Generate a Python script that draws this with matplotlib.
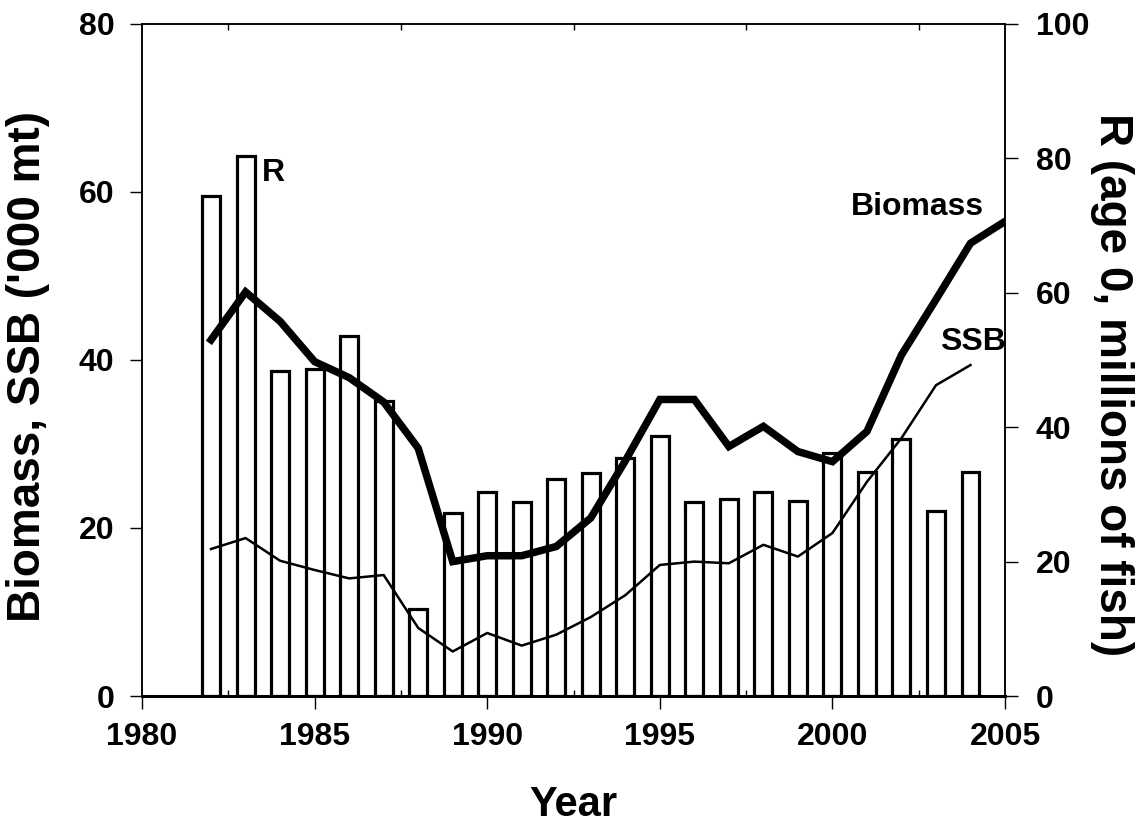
import numpy as np
import matplotlib.pyplot as plt
from matplotlib.ticker import MultipleLocator

plt.rcParams['font.family'] = ['Liberation Sans', 'DejaVu Sans']
plt.rcParams['font.weight'] = 'bold'

# recruitment bars (right axis, millions of age-0 fish)
r_years = np.arange(1982, 2005)
recruits = [74.4, 80.4, 48.4, 48.7, 53.5, 43.9, 12.9, 27.3, 30.4, 28.8, 32.3,
            33.2, 35.4, 38.7, 28.8, 29.3, 30.4, 29.0, 36.1, 33.4, 38.2, 27.5, 33.4]

# biomass (left axis, '000 mt)
b_years = np.arange(1982, 2006)
biomass = [42.4, 48.1, 44.6, 39.8, 37.9, 35.0, 29.5, 16.0, 16.7, 16.7, 17.8,
           21.2, 28.0, 35.3, 35.3, 29.7, 32.1, 29.1, 27.9, 31.5, 40.6, 47.2,
           53.9, 56.5]

# spawning stock biomass (left axis)
s_years = np.arange(1982, 2005)
ssb = [17.5, 18.8, 16.1, 15.0, 14.0, 14.4, 8.1, 5.3, 7.5, 6.0, 7.3,
       9.4, 12.0, 15.6, 16.0, 15.8, 18.0, 16.6, 19.4, 25.5, 30.7, 37.0, 39.4]

fig = plt.figure(figsize=(11.4, 8.27), dpi=100)
ax = fig.add_axes([0.1246, 0.1584, 0.757, 0.8126])
ax2 = ax.twinx()

ax2.bar(r_years, recruits, width=0.52, facecolor='white', edgecolor='black',
        linewidth=2.3, zorder=2)
ax.plot(b_years, biomass, color='black', lw=5.4, solid_joinstyle='miter', zorder=3)
ax.plot(s_years, ssb, color='black', lw=1.8, zorder=3)

# lines drawn over the bars
ax.set_zorder(ax2.get_zorder() + 1)
ax.patch.set_visible(False)

ax.set_xlim(1980, 2005)
ax.set_ylim(0, 80)
ax2.set_ylim(0, 100)

ax.xaxis.set_major_locator(MultipleLocator(5))
ax.xaxis.set_minor_locator(MultipleLocator(5, offset=2.5))
ax.yaxis.set_major_locator(MultipleLocator(20))
ax.yaxis.set_minor_locator(plt.NullLocator())
ax2.yaxis.set_major_locator(MultipleLocator(20))

ax.tick_params(axis='x', which='major', direction='out', length=9, width=1,
               labelsize=23, pad=10)
ax.tick_params(axis='x', which='minor', direction='in', length=4, width=1,
               top=True, bottom=True)
ax.tick_params(axis='y', which='major', direction='out', length=9, width=1,
               labelsize=23, pad=11)
ax2.tick_params(axis='y', which='major', direction='out', length=9, width=1,
                labelsize=23, pad=13)

for s in ['left', 'right', 'top']:
    ax.spines[s].set_linewidth(1.1)
    ax2.spines[s].set_linewidth(1.1)
ax.spines['bottom'].set_linewidth(2.2)
ax2.spines['bottom'].set_visible(False)

ax.set_xlabel('Year', fontsize=30, fontweight='bold', va='baseline')
ax.xaxis.set_label_coords(0.4994, -0.1786)
ax.set_ylabel("Biomass, SSB ('000 mt)", fontsize=33, fontweight='bold',
              va='center', ha='center')
ax.yaxis.set_label_coords(-0.132, 0.49)
ax2.set_ylabel('R (age 0, millions of fish)', fontsize=33, fontweight='bold',
               rotation=270, va='center', ha='center')
ax2.yaxis.set_label_coords(1.124, 0.463)

ax.text(1983.8, 62.3, 'R', fontsize=23, fontweight='bold', ha='center', va='center')
ax.text(2002.46, 58.2, 'Biomass', fontsize=23, fontweight='bold', ha='center', va='center')
ax.text(2004.06, 42.1, 'SSB', fontsize=23, fontweight='bold', ha='center', va='center')

fig.savefig('out.png', dpi=100)
